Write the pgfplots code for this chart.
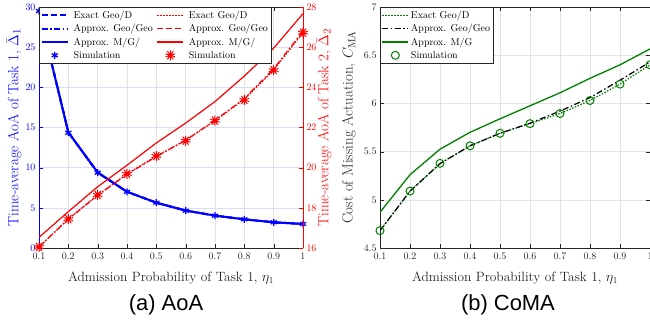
\documentclass[border=0pt]{standalone}
\usepackage{pgfplots}
\pgfplotsset{compat=1.18}
\usepackage{pgfplotstable}
\usepackage{fontspec}
\newfontfamily\capfont{Liberation Sans}
\usetikzlibrary{plotmarks}
\definecolor{mgreen}{rgb}{0,0.5,0}
\definecolor{axgray}{gray}{0.15}

\pgfplotstableread{
eta  exact geogeo mg sim
0.1  29.5  29.5  29.5  29.5
0.2  14.4  14.4  14.4  14.35
0.3  9.40  9.40  9.40  9.37
0.4  7.00  7.00  7.00  7.00
0.5  5.64  5.64  5.64  5.64
0.6  4.66  4.66  4.66  4.64
0.7  4.03  4.03  4.03  4.02
0.8  3.57  3.57  3.57  3.57
0.9  3.20  3.20  3.20  3.20
1.0  2.99  2.99  2.99  2.99
}\taskone

\pgfplotstableread{
eta  exact geogeo mg sim
0.1  16.05 16.05 16.53 16.05
0.2  17.44 17.44 17.81 17.44
0.3  18.64 18.62 19.05 18.64
0.4  19.69 19.67 20.12 19.69
0.5  20.58 20.55 21.23 20.58
0.6  21.36 21.36 22.22 21.34
0.7  22.34 22.36 23.29 22.34
0.8  23.40 23.44 24.56 23.37
0.9  24.86 24.92 25.95 24.86
1.0  26.72 26.80 27.67 26.72
}\tasktwo

\pgfplotstableread{
eta  exact geogeo mg sim
0.1  4.68  4.68  4.87  4.68
0.2  5.09  5.09  5.26  5.09
0.3  5.375 5.375 5.525 5.378
0.4  5.56  5.56  5.70  5.56
0.5  5.69  5.69  5.84  5.69
0.6  5.79  5.795 5.975 5.79
0.7  5.895 5.92  6.11  5.895
0.8  6.03  6.06  6.26  6.03
0.9  6.20  6.24  6.40  6.20
1.0  6.40  6.43  6.565 6.40
}\coma

\pgfplotsset{
  mylegend/.style={legend image code/.code={\draw[mark repeat=2,mark phase=2,##1] plot coordinates {(0bp,0bp)(13bp,0bp)(26bp,0bp)};}},
  mymark/.style={legend image code/.code={\path (0bp,0bp) (26bp,0bp); \draw[##1] plot coordinates {(13bp,0bp)};}},
  mydash/.style={dash pattern=on 6bp off 3bp},
  mydashdot/.style={dash pattern=on 6bp off 2.5bp on 1.5bp off 2.5bp},
  mydot/.style={dash pattern=on 1.5bp off 1.5bp},
  common/.style={
    scale only axis, height=241bp, anchor=south west,
    xmin=0.1, xmax=1,
    xtick={0.1,0.2,0.3,0.4,0.5,0.6,0.7,0.8,0.9,1},
    tick label style={font=\fontsize{10}{12}\selectfont},
    xticklabel style={yshift=-1.5bp},
    xlabel style={font=\fontsize{13.5}{16}\selectfont, at={(axis description cs:0.5,-0.125)}, anchor=center},
    ylabel style={font=\fontsize{15}{18}\selectfont},
    legend cell align=left,
    tick style={axgray},
  },
}

\begin{document}
\begin{tikzpicture}
% ---------- (a) left: Task 1 (blue) ----------
\begin{axis}[common,
  at={(39bp,77bp)}, width=264bp,
  ymin=0, ymax=30, ytick={0,5,10,15,20,25,30},
  axis y line*=left,
  x axis line style={axgray},
  y axis line style={blue},
  ytick style={blue},
  yticklabel style={blue},
  xticklabel style={axgray},
  xmajorgrids, ymajorgrids,
  x grid style={gray!22}, y grid style={blue!14},
  xlabel={Admission Probability of Task 1, $\eta_1$},
  xlabel style={axgray},
  ylabel={Time-average AoA of Task 1, $\bar{\Delta}_1$},
  ylabel style={blue, at={(axis description cs:-0.095,0.5)}, anchor=center},
]
\addplot[blue, line width=2bp, mydash] table[x=eta, y=exact] {\taskone};
\addplot[blue, line width=2bp, mydashdot] table[x=eta, y=geogeo] {\taskone};
\addplot[blue, line width=2bp] table[x=eta, y=mg] {\taskone};
\addplot[blue, only marks, mark=asterisk, mark size=3.5bp, mark options={line width=1.3bp}] table[x=eta, y=sim] {\taskone};
\end{axis}

% ---------- (a) right: Task 2 (red) ----------
\begin{axis}[common,
  at={(39bp,77bp)}, width=264bp,
  ymin=16, ymax=28, ytick={16,18,20,22,24,26,28},
  axis y line*=right, axis x line=none,
  y axis line style={red},
  ytick style={red},
  yticklabel style={red},
  ylabel={Time-average AoA of Task 2, $\bar{\Delta}_2$},
  ylabel style={red, at={(axis description cs:1.08,0.5)}, anchor=center},
  legend columns=2,
  legend style={at={(0,1)}, anchor=north west, draw=axgray, fill=white,
    font=\fontsize{10}{12}\selectfont, inner sep=1.5bp, row sep=0.5bp,
    /tikz/every even column/.append style={column sep=2bp},
    /tikz/every odd column/.append style={column sep=3bp}},
]
\addlegendimage{blue, line width=2bp, mydash, mylegend}
\addlegendentry{Exact Geo/D}
\addlegendimage{red, line width=1.2bp, mydot, mylegend}
\addlegendentry{Exact Geo/D}
\addlegendimage{blue, line width=2bp, mydashdot, mylegend}
\addlegendentry{Approx. Geo/Geo}
\addlegendimage{red, line width=1.2bp, mydash, mylegend}
\addlegendentry{Approx. Geo/Geo}
\addlegendimage{blue, line width=2bp, mylegend}
\addlegendentry{Approx. M/G/}
\addlegendimage{red, line width=1.2bp, mylegend}
\addlegendentry{Approx. M/G/}
\addlegendimage{blue, only marks, mark=asterisk, mark size=3.5bp, mark options={line width=1.3bp}, mymark}
\addlegendentry{Simulation}
\addlegendimage{red, only marks, mark=10-pointed star, mark size=5bp, mark options={line width=1bp, fill opacity=0}, mymark}
\addlegendentry{Simulation}

\addplot[red, line width=1.2bp, mydot, forget plot] table[x=eta, y=exact] {\tasktwo};
\addplot[red, line width=1.2bp, mydashdot, forget plot] table[x=eta, y=geogeo] {\tasktwo};
\addplot[red, line width=1.2bp, forget plot] table[x=eta, y=mg] {\tasktwo};
\addplot[red, only marks, mark=10-pointed star, mark size=5bp, mark options={line width=1bp, fill opacity=0}, forget plot] table[x=eta, y=sim] {\tasktwo};
\end{axis}

% ---------- (b) CoMA ----------
\begin{axis}[common,
  at={(380bp,77bp)}, width=270bp,
  ymin=4.5, ymax=7, ytick={4.5,5,5.5,6,6.5,7},
  axis line style={axgray},
  ticklabel style={axgray},
  yticklabel style={/pgf/number format/.cd, fixed, precision=1},
  grid=major, grid style={gray!22},
  xlabel={Admission Probability of Task 1, $\eta_1$},
  xlabel style={axgray},
  ylabel={Cost of Missing Actuation, $C_{\mathrm{MA}}$},
  ylabel style={axgray, at={(axis description cs:-0.115,0.5)}, anchor=center},
  legend style={at={(0,1)}, anchor=north west, draw=axgray, fill=white,
    font=\fontsize{10}{12}\selectfont, inner sep=1.5bp, row sep=0.5bp,
    /tikz/every even column/.append style={column sep=2bp}},
]
\addplot[mgreen, line width=1.2bp, mydot, mylegend] table[x=eta, y=exact] {\coma};
\addlegendentry{Exact Geo/D}
\addplot[black, line width=1.2bp, mydashdot, mylegend] table[x=eta, y=geogeo] {\coma};
\addlegendentry{Approx. Geo/Geo}
\addplot[mgreen, line width=1.3bp, mylegend] table[x=eta, y=mg] {\coma};
\addlegendentry{Approx. M/G}
\addplot[mgreen, only marks, mark=o, mark size=4bp, mark options={line width=1bp}, mymark] table[x=eta, y=sim] {\coma};
\addlegendentry{Simulation}
\end{axis}

\node[font=\capfont\fontsize{22}{25}\selectfont, anchor=center] at (166bp,20bp) {(a) AoA};
\node[font=\capfont\fontsize{22}{25}\selectfont, anchor=center] at (508bp,20bp) {(b) CoMA};

\pgfresetboundingbox
\useasboundingbox (0,0) rectangle (650bp,325bp);
\end{tikzpicture}
\end{document}
